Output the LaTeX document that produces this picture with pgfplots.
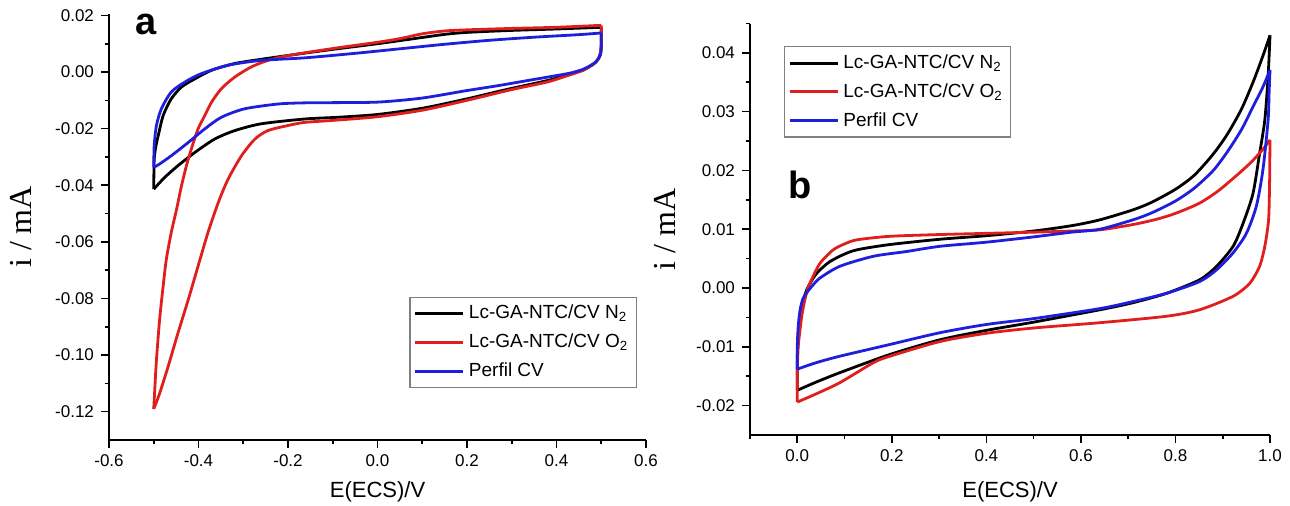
\documentclass[border=0pt]{standalone}
\usepackage{pgfplots}
\pgfplotsset{compat=1.18}
\usepackage{fontspec}
\setmainfont{Liberation Sans}
\newfontfamily\serifi{Liberation Serif}
\definecolor{cvred}{RGB}{225,30,30}
\definecolor{cvblue}{RGB}{30,30,220}
\pgfplotsset{
 cvstyle/.style={
  scale only axis,
  scaled y ticks=false, scaled x ticks=false,
  axis x line*=bottom, axis y line*=left,
  axis line style={line width=1pt,-},
  tick align=outside,
  major tick length=4pt, minor tick length=2.2pt,
  every tick/.style={black, line width=0.8pt},
  tick label style={font=\fontsize{8.5}{10}\selectfont},
  xlabel style={font=\fontsize{11}{13}\selectfont},
  ylabel style={font=\serifi\fontsize{16}{18}\selectfont},
  legend cell align=left,
  legend style={draw=gray, line width=0.6pt, font=\fontsize{9.5}{11}\selectfont, inner xsep=2pt, inner ysep=2pt, row sep=2pt},
  legend image code/.code={\draw[##1, line width=1.5pt] (0pt,0pt) -- (24pt,0pt);},
  every axis plot/.append style={line width=1.4pt, line join=round, smooth, tension=0.45},
  clip=false,
 }
}
\begin{document}
\begin{tikzpicture}
\useasboundingbox (0,0) rectangle (645pt,253pt);
% ---------------- panel a ----------------
\begin{axis}[cvstyle, at={(54.5pt,33pt)}, anchor=south west, width=268.5pt, height=213pt,
 xmin=-0.6, xmax=0.6, ymin=-0.13, ymax=0.0205,
 xtick={-0.6,-0.4,-0.2,0,0.2,0.4,0.6}, xticklabels={-0.6,-0.4,-0.2,0.0,0.2,0.4,0.6},
 minor xtick={-0.5,-0.3,-0.1,0.1,0.3,0.5},
 ytick={-0.12,-0.10,-0.08,-0.06,-0.04,-0.02,0,0.02},
 yticklabels={-0.12,-0.10,-0.08,-0.06,-0.04,-0.02,0.00,0.02},
 minor ytick={-0.11,-0.09,-0.07,-0.05,-0.03,-0.01,0.01},
 xlabel={E(ECS)/V}, ylabel={i / mA},
 xlabel style={at={(axis description cs:0.5,-0.122)}, anchor=center},
 ylabel style={at={(axis description cs:-0.164,0.5)}, anchor=center},
 legend style={at={(0.983,0.122)}, anchor=south east}]
\addplot[black] coordinates {
(-0.5,-0.0414) (-0.499,-0.0308) (-0.495,-0.026) (-0.49,-0.0225) (-0.479,-0.0154) (-0.461,-0.0095)
(-0.438,-0.0053) (-0.408,-0.0024) (-0.371,0.0006) (-0.319,0.003) (-0.26,0.0045) (-0.184,0.0062)
(-0.1,0.0080) (0,0.0100) (0.1,0.0122) (0.15,0.0133) (0.2,0.0140) (0.3,0.0147) (0.4,0.0152) (0.5,0.0158)};
\addlegendentry{Lc-GA-NTC/CV N\textsubscript{2}}
\addplot[black, forget plot] coordinates {
(0.5,0.0158) (0.5,0.010) (0.499,0.0068) (0.495,0.005) (0.488,0.0035) (0.477,0.0022) (0.46,0.0008) (0.43,-0.0008)
(0.38,-0.0030) (0.288,-0.0062) (0.194,-0.0097) (0.1,-0.0128) (0,-0.0150) (-0.09,-0.0160)
(-0.163,-0.0166) (-0.26,-0.0183) (-0.319,-0.0207) (-0.364,-0.0237) (-0.408,-0.0284) (-0.446,-0.0331)
(-0.476,-0.0373) (-0.5,-0.0414)};
\addplot[cvred] coordinates {
(-0.5,-0.119) (-0.497,-0.110) (-0.494,-0.1018) (-0.487,-0.0876) (-0.479,-0.0757) (-0.472,-0.0663)
(-0.461,-0.0568) (-0.449,-0.0485) (-0.438,-0.0402) (-0.427,-0.0331) (-0.416,-0.0272) (-0.401,-0.0201)
(-0.386,-0.0154) (-0.371,-0.0107) (-0.349,-0.0059) (-0.319,-0.0018) (-0.282,0.0018) (-0.245,0.0041)
(-0.2,0.0058) (-0.1,0.0083) (0,0.0105) (0.05,0.0118) (0.1,0.0135) (0.15,0.0145) (0.2,0.0149)
(0.3,0.0154) (0.4,0.0158) (0.5,0.0165)};
\addlegendentry{Lc-GA-NTC/CV O\textsubscript{2}}
\addplot[cvred, forget plot] coordinates {
(0.5,0.0165) (0.5,0.011) (0.499,0.0075) (0.495,0.0052) (0.488,0.0035) (0.477,0.0022) (0.46,0.0006) (0.43,-0.0010)
(0.38,-0.0035) (0.3,-0.0062) (0.2,-0.0100) (0.1,-0.0135) (0,-0.0158) (-0.1,-0.0171) (-0.163,-0.0178)
(-0.2,-0.0189) (-0.245,-0.0207) (-0.274,-0.0237) (-0.304,-0.0296) (-0.334,-0.0379) (-0.356,-0.0462)
(-0.379,-0.0568) (-0.401,-0.0686) (-0.423,-0.0805) (-0.446,-0.0923) (-0.468,-0.1041) (-0.487,-0.1136)
(-0.5,-0.119)};
\addplot[cvblue] coordinates {
(-0.5,-0.0337) (-0.499,-0.026) (-0.494,-0.0189) (-0.483,-0.013) (-0.461,-0.0071) (-0.431,-0.0036)
(-0.394,-0.0006) (-0.334,0.0024) (-0.26,0.0041) (-0.163,0.0050) (-0.05,0.0066) (0.05,0.0082)
(0.15,0.0098) (0.25,0.0112) (0.35,0.0123) (0.45,0.0132) (0.5,0.0138)};
\addlegendentry{Perfil CV}
\addplot[cvblue, forget plot] coordinates {
(0.5,0.0138) (0.5,0.010) (0.499,0.007) (0.495,0.0052) (0.488,0.0036) (0.477,0.0024) (0.46,0.0010) (0.43,-0.0004)
(0.38,-0.0018) (0.336,-0.0030) (0.27,-0.0048) (0.194,-0.0067) (0.1,-0.0092) (0.005,-0.0106)
(-0.08,-0.0108) (-0.163,-0.0109) (-0.222,-0.0113) (-0.297,-0.0130) (-0.349,-0.0160) (-0.386,-0.0201)
(-0.423,-0.0249) (-0.461,-0.0296) (-0.487,-0.0325) (-0.5,-0.0337)};
\node[font=\bfseries\fontsize{19}{20}\selectfont] at (axis cs:-0.517,0.0167) {a};
\end{axis}
% ---------------- panel b ----------------
\begin{axis}[cvstyle, at={(375pt,35.5pt)}, anchor=south west, width=260pt, height=205.75pt,
 xmin=-0.1, xmax=1.0, ymin=-0.025, ymax=0.045,
 xtick={0,0.2,0.4,0.6,0.8,1.0}, xticklabels={0.0,0.2,0.4,0.6,0.8,1.0},
 minor xtick={-0.1,0.1,0.3,0.5,0.7,0.9},
 ytick={-0.02,-0.01,0,0.01,0.02,0.03,0.04},
 yticklabels={-0.02,-0.01,0.00,0.01,0.02,0.03,0.04},
 minor ytick={-0.015,-0.005,0.005,0.015,0.025,0.035,0.045},
 xlabel={E(ECS)/V}, ylabel={i / mA},
 xlabel style={at={(axis description cs:0.5,-0.138)}, anchor=center},
 ylabel style={at={(axis description cs:-0.163,0.5)}, anchor=center},
 legend style={at={(0.065,0.945)}, anchor=north west}]
\addplot[black] coordinates {
(0,-0.0174) (0,-0.012) (0.002,-0.008) (0.005,-0.0055) (0.009,-0.0037) (0.014,-0.0018) (0.02,-0.0003)
(0.03,0.0012) (0.041,0.0025) (0.055,0.0036) (0.069,0.0045) (0.095,0.0056) (0.126,0.0065) (0.196,0.0074)
(0.302,0.0083) (0.4,0.0089) (0.5,0.0097) (0.58,0.0106) (0.64,0.0116) (0.71,0.0133) (0.75,0.0146)
(0.8,0.0168) (0.84,0.0192) (0.88,0.0228) (0.91,0.0262) (0.94,0.0305) (0.965,0.0352) (0.985,0.0395) (1.0,0.0430)};
\addlegendentry{Lc-GA-NTC/CV N\textsubscript{2}}
\addplot[black, forget plot] coordinates {
(1.0,0.0430) (0.996,0.036) (0.989,0.0286) (0.978,0.0229) (0.964,0.0161) (0.943,0.0110) (0.922,0.0071) (0.887,0.0037)
(0.851,0.0014) (0.781,-0.0009) (0.71,-0.0025) (0.64,-0.0037) (0.5,-0.0058) (0.4,-0.0072)
(0.302,-0.0088) (0.196,-0.0113) (0.09,-0.0144) (0.04,-0.0160) (0,-0.0174)};
\addplot[cvred] coordinates {
(0,-0.0194) (0,-0.014) (0.002,-0.010) (0.005,-0.0076) (0.01,-0.0045) (0.016,-0.002) (0.022,-0.0002)
(0.030,0.0014) (0.048,0.0042) (0.076,0.0065) (0.1,0.0075) (0.126,0.0082) (0.196,0.0088) (0.302,0.0091)
(0.4,0.0093) (0.5,0.0095) (0.58,0.0097) (0.64,0.0099) (0.71,0.0108) (0.76,0.0117) (0.8,0.0127)
(0.85,0.0144) (0.89,0.0165) (0.93,0.0192) (0.96,0.0214) (0.985,0.0236) (1.0,0.0252)};
\addlegendentry{Lc-GA-NTC/CV O\textsubscript{2}}
\addplot[cvred, forget plot] coordinates {
(1.0,0.0252) (0.9995,0.0210) (0.999,0.0173) (0.997,0.0116) (0.989,0.0071) (0.978,0.0037) (0.957,0.0008)
(0.922,-0.0014) (0.851,-0.0037) (0.781,-0.0048) (0.64,-0.0059) (0.5,-0.0068) (0.4,-0.0077)
(0.302,-0.0091) (0.196,-0.0116) (0.161,-0.0127) (0.09,-0.0161) (0.04,-0.0180) (0,-0.0194)};
\addplot[cvblue] coordinates {
(0,-0.0138) (0,-0.010) (0.002,-0.0065) (0.006,-0.0037) (0.012,-0.0018) (0.02,-0.0008) (0.032,0.0004)
(0.048,0.0017) (0.09,0.0037) (0.161,0.0054) (0.23,0.0062) (0.302,0.0071) (0.4,0.0078) (0.5,0.0087)
(0.58,0.0095) (0.64,0.0100) (0.71,0.0116) (0.75,0.0128) (0.8,0.0148) (0.84,0.0170) (0.88,0.0200)
(0.91,0.0232) (0.94,0.0270) (0.965,0.0310) (0.985,0.0342) (1.0,0.0371)};
\addlegendentry{Perfil CV}
\addplot[cvblue, forget plot] coordinates {
(1.0,0.0371) (0.998,0.033) (0.996,0.0286) (0.985,0.0201) (0.971,0.0139) (0.95,0.0093) (0.922,0.0060) (0.887,0.0031)
(0.851,0.0011) (0.781,-0.0009) (0.71,-0.0023) (0.64,-0.0035) (0.5,-0.0052) (0.4,-0.0062)
(0.302,-0.0076) (0.196,-0.0096) (0.09,-0.0116) (0.04,-0.0127) (0,-0.0138)};
\node[font=\bfseries\fontsize{19}{20}\selectfont] at (axis cs:0.006,0.0176) {b};
\end{axis}
\end{tikzpicture}
\end{document}
